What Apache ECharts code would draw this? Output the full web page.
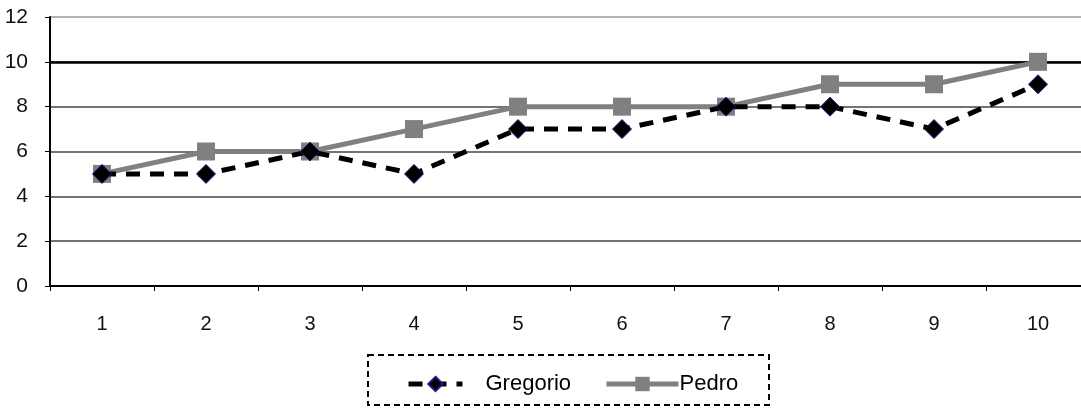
<!DOCTYPE html>
<html>
<head>
<meta charset="utf-8">
<script src="https://cdn.jsdelivr.net/npm/echarts@6/dist/echarts.min.js"></script>
<style>
  html, body { margin: 0; padding: 0; background: #fff; overflow: hidden; }
  #chart { width: 1090px; height: 408px; }
</style>
</head>
<body>
<div id="chart"></div>
<script>
// Scores per round for two players
const categories = ['1', '2', '3', '4', '5', '6', '7', '8', '9', '10'];
const gregorio = [5, 5, 6, 5, 7, 7, 8, 8, 7, 9];
const pedro = [5, 6, 6, 7, 8, 8, 8, 9, 9, 10];
const yTicks = [0, 2, 4, 6, 8, 10, 12];

const chart = echarts.init(document.getElementById('chart'));
const font = '"Liberation Sans Narrow", "Arial Narrow", sans-serif';
const legendFont = '"Liberation Sans", Arial, sans-serif';

chart.setOption({
  animation: false,
  // the plot runs slightly past the right edge of the visible page
  grid: { left: 50, right: 0, top: 17, height: 269, containLabel: false },
  xAxis: {
    type: 'category',
    data: categories,
    boundaryGap: true,
    axisLine: { lineStyle: { color: '#000', width: 2 } },
    axisTick: { show: true, length: 5, lineStyle: { color: '#000', width: 1 } },
    axisLabel: { color: '#111', fontFamily: font, fontSize: 20, margin: 28 },
    splitLine: { show: false }
  },
  yAxis: {
    type: 'value',
    min: yTicks[0],
    max: yTicks[yTicks.length - 1],
    interval: 2,
    axisLine: { show: true, lineStyle: { color: '#000', width: 2 } },
    axisTick: { show: true, length: 5, lineStyle: { color: '#000' } },
    axisLabel: { color: '#111', fontFamily: font, fontSize: 21, margin: 22 },
    splitLine: { show: true, lineStyle: { color: ['#444', '#444', '#444', '#444', '#444', '#444', '#999'], width: 1.5 } }
  },
  legend: [
    {
      left: 406,
      top: 373,
      padding: 0,
      itemWidth: 54,
      itemHeight: 18,
      textStyle: { fontFamily: legendFont, fontSize: 22, color: '#000', padding: [0, 0, 0, 18] },
      lineStyle: { width: 5 },
      data: ['Gregorio']
    },
    {
      left: 604,
      top: 373,
      padding: 0,
      itemWidth: 72,
      itemHeight: 18,
      textStyle: { fontFamily: legendFont, fontSize: 22, color: '#000', padding: [0, 0, 0, -4] },
      lineStyle: { width: 5 },
      data: ['Pedro']
    }
  ],
  graphic: [{
    type: 'rect',
    shape: { x: 368, y: 355, width: 401, height: 50 },
    style: { fill: 'none', stroke: '#000', lineWidth: 2, lineDash: [6, 4] },
    silent: true
  }],
  series: [
    {
      name: 'Gregorio',
      type: 'line',
      data: gregorio,
      symbol: 'diamond',
      symbolSize: 19,
      lineStyle: { color: '#000', width: 5, type: [14, 10] },
      itemStyle: { color: '#000', borderColor: '#1a1a80', borderWidth: 1 },
      z: 3
    },
    {
      name: 'Pedro',
      type: 'line',
      data: pedro,
      symbol: 'rect',
      symbolSize: 18,
      lineStyle: { color: '#808080', width: 5 },
      itemStyle: { color: '#808080' },
      z: 2,
      markLine: {
        silent: true,
        symbol: 'none',
        label: { show: false },
        lineStyle: { color: '#000', width: 2.5, type: 'solid' },
        data: [{ yAxis: 10 }],
        z: 1
      }
    }
  ]
});
</script>
</body>
</html>
